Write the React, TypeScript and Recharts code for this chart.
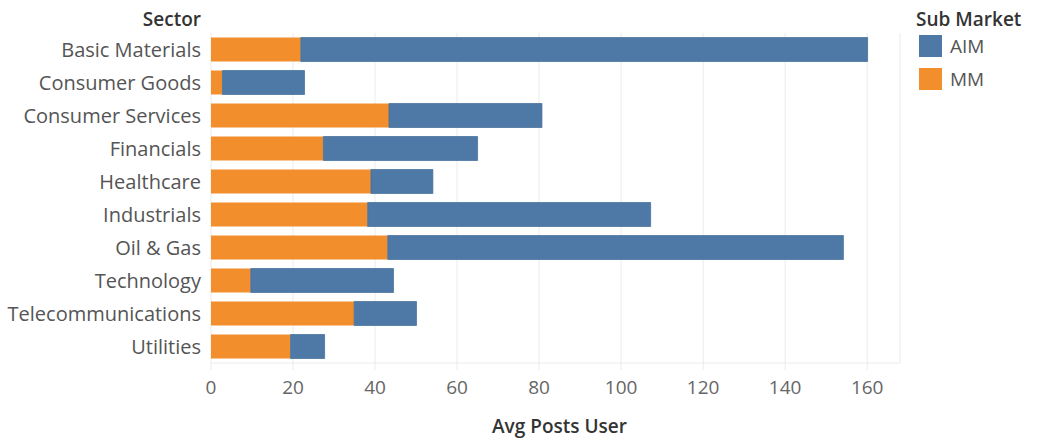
import React from "react";
import { Bar, BarChart, CartesianGrid, XAxis, YAxis } from "recharts";

const sectors = [
  "Basic Materials",
  "Consumer Goods",
  "Consumer Services",
  "Financials",
  "Healthcare",
  "Industrials",
  "Oil & Gas",
  "Technology",
  "Telecommunications",
  "Utilities",
];
const mm = [21.9, 2.8, 43.4, 27.4, 39.0, 38.2, 43.1, 9.7, 34.9, 19.4];
const aim = [138.2, 20.0, 37.3, 37.6, 15.1, 69.0, 111.1, 34.8, 15.2, 8.3];
const xTicks = [0, 20, 40, 60, 80, 100, 120, 140, 160];
const subMarkets = ["AIM", "MM"];

const AIM_COLOR = "#4e79a7";
const MM_COLOR = "#f28e2b";
const FONT = "'Open Sans', sans-serif";

const data = sectors.map((s, i) => ({ sector: s, MM: mm[i], AIM: aim[i] }));
const colorOf: Record<string, string> = { AIM: AIM_COLOR, MM: MM_COLOR };

export default function App() {
  return (
    <div style={{ position: "absolute", left: 0, top: 0, width: 1038, height: 441, background: "#fff", overflow: "hidden" }}>
      {/* axis title above the sector labels */}
      <div
        style={{
          position: "absolute",
          right: 1038 - 201,
          top: 9,
          lineHeight: "20px",
          fontFamily: FONT,
          fontSize: 19,
          fontWeight: 600,
          color: "#333",
        }}
      >
        Sector
      </div>

      {/* legend */}
      <div style={{ position: "absolute", left: 916, top: 7, fontFamily: FONT, whiteSpace: "nowrap" }}>
        <div style={{ fontSize: 19, fontWeight: 600, color: "#333", lineHeight: "24px" }}>Sub Market</div>
        {subMarkets.map((name, i) => (
          <div
            key={name}
            style={{ position: "absolute", left: 3, top: 28 + i * 33, display: "flex", alignItems: "center", height: 22 }}
          >
            <div style={{ width: 23, height: 22, background: colorOf[name], marginRight: 8 }} />
            <span style={{ fontSize: 19, color: "#555", lineHeight: "22px" }}>{name}</span>
          </div>
        ))}
      </div>

      <BarChart
        width={1038}
        height={441}
        data={data}
        layout="vertical"
        margin={{ top: 33, right: 138, bottom: 4, left: 0 }}
        barCategoryGap={4.5}
      >
        <CartesianGrid horizontal={false} stroke="#ebebeb" />
        <XAxis
          type="number"
          domain={[0, 168]}
          ticks={xTicks}
          allowDataOverflow
          height={74}
          axisLine={{ stroke: "#ebebeb" }}
          tickLine={{ stroke: "#ebebeb" }}
          tickSize={7}
          tickMargin={11}
          tick={{ fill: "#666", fontSize: 19, fontFamily: FONT }}
          label={{
            value: "Avg Posts User",
            position: "insideBottom",
            offset: 4,
            dx: 4,
            style: { fill: "#333", fontSize: 19, fontWeight: 600, fontFamily: FONT },
          }}
        />
        <YAxis
          type="category"
          dataKey="sector"
          width={211}
          axisLine={false}
          tickLine={false}
          tickMargin={4}
          tick={{ fill: "#555", fontSize: 20, fontFamily: FONT }}
          interval={0}
        />
        <Bar dataKey="MM" stackId="a" fill={MM_COLOR} isAnimationActive={false} />
        <Bar
          dataKey="AIM"
          stackId="a"
          fill={AIM_COLOR}
          stroke="#3f6b99"
          strokeWidth={1}
          strokeOpacity={0.7}
          isAnimationActive={false}
        />
      </BarChart>
    </div>
  );
}
